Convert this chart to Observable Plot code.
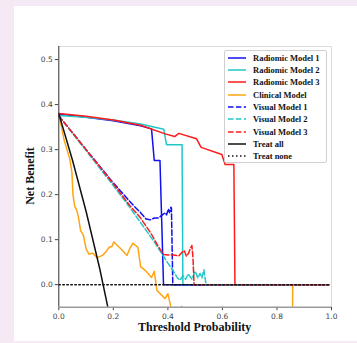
<!DOCTYPE html>
<html><head><meta charset="utf-8">
<script src="https://cdn.jsdelivr.net/npm/d3@7"></script>
<script src="https://cdn.jsdelivr.net/npm/@observablehq/plot@0.6"></script>
<style>
html,body{margin:0;padding:0;background:#f5e9f5;}
#wrap{position:relative;width:357px;height:343px;background:#f5e9f5;overflow:hidden;}
#panel{position:absolute;left:14px;top:6px;width:343px;height:335px;background:#fff;}
#chart{position:absolute;left:0;top:0;}
.lbl{position:absolute;font-family:"Liberation Serif","Times New Roman",serif;font-weight:bold;color:#111;white-space:nowrap;}
#legend{position:absolute;left:224px;top:50px;width:103px;height:113px;border:1px solid #d0d0d0;border-radius:2px;background:rgba(255,255,255,0.85);box-sizing:border-box;}
.row{position:absolute;left:0;height:12px;display:flex;align-items:center;}
.row svg{margin-left:3px;}
.row span{margin-left:7px;font-family:"Liberation Serif","Times New Roman",serif;font-weight:bold;font-size:8.5px;color:#111;}
</style></head>
<body>
<div id="wrap">
  <div id="panel"></div>
  <div id="chart"></div>
  <div class="lbl" id="ylab" style="left:30px;top:176px;font-size:12px;transform:translate(-50%,-50%) rotate(-90deg);">Net Benefit</div>
  <div class="lbl" id="xlab" style="left:194.6px;top:327px;font-size:12px;transform:translate(-50%,-50%);">Threshold Probability</div>
  <div id="legend"></div>
</div>
<script>
// ---- data ----
const xTicks = [0, 0.2, 0.4, 0.6, 0.8, 1.0];
const yTicks = [0, 0.1, 0.2, 0.3, 0.4, 0.5];

const radiomic1 = [[0,0.379],[0.1,0.372],[0.2,0.364],[0.3,0.353],[0.34,0.346],[0.35,0.276],[0.371,0.276],[0.384,0],[0.99,0]];
const radiomic2 = [[0,0.376],[0.1,0.372],[0.2,0.366],[0.3,0.357],[0.385,0.345],[0.395,0.311],[0.452,0.311],[0.455,0],[0.99,0]];
const radiomic3 = [[0,0.380],[0.1,0.374],[0.2,0.366],[0.3,0.354],[0.39,0.335],[0.425,0.329],[0.44,0.336],[0.505,0.324],[0.522,0.305],[0.598,0.289],[0.61,0.267],[0.642,0.267],[0.646,0],[0.99,0]];
const clinical = [[0,0.38],[0.01,0.35],[0.02,0.32],[0.03,0.30],[0.04,0.28],[0.048,0.25],[0.052,0.20],[0.058,0.175],[0.066,0.165],[0.072,0.15],[0.08,0.12],[0.09,0.11],[0.1,0.08],[0.11,0.068],[0.125,0.07],[0.14,0.06],[0.16,0.065],[0.175,0.075],[0.185,0.083],[0.195,0.085],[0.202,0.095],[0.215,0.087],[0.23,0.078],[0.25,0.065],[0.26,0.08],[0.272,0.092],[0.29,0.083],[0.3,0.04],[0.32,0.03],[0.34,0.016],[0.35,0.03],[0.36,-0.013],[0.39,-0.031],[0.40,-0.02],[0.415,-0.06],[0.44,-0.07],[0.45,-0.048],[0.46,-0.08],[0.6,-0.12],[0.75,-0.15],[0.855,-0.2],[0.858,0],[0.99,0]];
const visual1 = [[0,0.375],[0.1,0.30],[0.2,0.226],[0.25,0.192],[0.28,0.172],[0.3,0.16],[0.32,0.146],[0.335,0.144],[0.35,0.148],[0.365,0.148],[0.38,0.155],[0.39,0.16],[0.395,0.155],[0.402,0.168],[0.406,0.16],[0.411,0.172],[0.413,0.17],[0.418,0],[0.99,0]];
const visual2 = [[0,0.375],[0.1,0.298],[0.2,0.22],[0.25,0.18],[0.3,0.138],[0.35,0.095],[0.38,0.067],[0.40,0.048],[0.42,0.03],[0.435,0.015],[0.445,0.01],[0.455,0.02],[0.465,0.012],[0.475,0.024],[0.488,0.012],[0.5,0.03],[0.51,0.015],[0.518,0.025],[0.525,0.015],[0.532,0.033],[0.54,0],[0.99,0]];
const visual3 = [[0,0.375],[0.1,0.30],[0.2,0.224],[0.26,0.176],[0.3,0.148],[0.34,0.112],[0.36,0.09],[0.375,0.075],[0.385,0.067],[0.40,0.066],[0.42,0.066],[0.44,0.064],[0.452,0.072],[0.46,0.076],[0.468,0.063],[0.476,0.07],[0.482,0.08],[0.488,0.087],[0.492,0.06],[0.496,0],[0.99,0]];
const treatAll = [[0,0.38],[0.05,0.277],[0.1,0.163],[0.15,0.036],[0.2,-0.108]];
const treatNone = [[0,0],[0.99,0]];

const seriesNames = ["Radiomic Model 1","Radiomic Model 2","Radiomic Model 3","Clinical Model","Visual Model 1","Visual Model 2","Visual Model 3","Treat all","Treat none"];
const seriesData = [radiomic1, radiomic2, radiomic3, clinical, visual1, visual2, visual3, treatAll, treatNone];
const seriesColors = ["#1010f0","#20c8c8","#ff1a1a","#ffa510","#1010f0","#20c8c8","#ff1a1a","#111111","#111111"];
const seriesDash = [null,null,null,null,"5.5,2.4","5.5,2.4","5.5,2.4",null,"1.5,2.5"];

const marks = [
  Plot.ruleY([0.529], {stroke:"#dcdcdc", strokeWidth:1}),
  Plot.ruleX([1], {stroke:"#dcdcdc", strokeWidth:1}),
];
seriesData.forEach((data, i) => {
  marks.push(Plot.line(data, {
    x: d => d[0], y: d => d[1],
    stroke: seriesColors[i], strokeWidth: 1.5,
    strokeDasharray: seriesDash[i] || undefined,
    clip: true
  }));
});
marks.push(Plot.ruleX([0], {stroke:"#333", strokeWidth:1}));
marks.push(Plot.ruleY([-0.05], {stroke:"#9a9a9a", strokeWidth:1.6}));

const chart = Plot.plot({
  width: 357, height: 343,
  marginLeft: 58.3, marginRight: 26, marginTop: 46, marginBottom: 36.3,
  style: {background: "transparent", fontFamily: "DejaVu Sans", fontSize: "7.5px", color: "#444"},
  x: {domain: [0, 1], ticks: xTicks, tickFormat: d3.format(".1f"), label: null, tickSize: 3.5, tickPadding: 2.5},
  y: {domain: [-0.05, 0.529], ticks: yTicks, tickFormat: d3.format(".1f"), label: null, tickSize: 3.5, tickPadding: 2.5},
  marks
});
document.getElementById("chart").appendChild(chart);

// legend
const leg = document.getElementById("legend");
seriesNames.forEach((name, i) => {
  const row = document.createElement("div");
  row.className = "row";
  row.style.top = (0.7 + i * 12.33) + "px";
  const dash = seriesDash[i] ? `stroke-dasharray="${seriesDash[i]}"` : "";
  row.innerHTML = `<svg width="18" height="4"><line x1="0" y1="2" x2="18" y2="2" stroke="${seriesColors[i]}" stroke-width="1.5" ${dash}/></svg><span>${name}</span>`;
  leg.appendChild(row);
});
</script>
</body></html>
